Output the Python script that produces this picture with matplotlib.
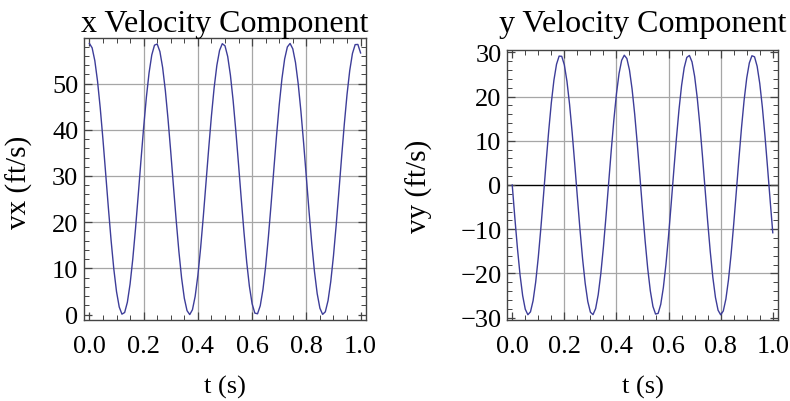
import numpy as np
import matplotlib
matplotlib.use("Agg")
import matplotlib.pyplot as plt
from matplotlib.ticker import MultipleLocator, FormatStrFormatter

# tempo (s), amostrado a cada 0.01 s
t = np.round(np.arange(0, 101) * 0.01, 2)

# componente x da velocidade (ft/s)
vx = [58.70, 57.75, 54.96, 50.52, 44.70, 37.89, 30.53, 23.09, 16.06, 9.87,
      4.97, 1.64, 0.09, 0.45, 2.67, 6.62, 12.04, 18.58, 25.82, 33.28,
      40.50, 46.99, 52.33, 56.20, 58.32, 58.57, 56.93, 53.50, 48.52, 42.28,
      35.21, 27.76, 20.42, 13.66, 7.90, 3.54, 0.85, 0.00, 1.05, 3.94,
      8.47, 14.34, 21.20, 28.58, 36.00, 43.00, 49.12, 53.95, 57.19, 58.64,
      58.18, 55.86, 51.82, 46.33, 39.74, 32.48, 25.01, 17.83, 11.39, 6.11,
      2.34, 0.32, 0.17, 1.91, 5.43, 10.50, 16.79, 23.89, 31.34, 38.67,
      45.39, 51.07, 55.35, 57.94, 58.69, 57.53, 54.56, 49.94, 44.00, 37.11,
      29.72, 22.30, 15.34, 9.29, 4.53, 1.38, 0.04, 0.60, 3.02, 7.14,
      12.70, 19.34, 26.62, 34.09, 41.24, 47.63, 52.83, 56.52, 58.44, 58.48,
      56.64]

# componente y da velocidade (ft/s)
vy = [0.00, -7.41, -14.33, -20.33, -25.01, -28.08, -29.33, -28.68, -26.17, -21.96,
      -16.34, -9.66, -2.36, 5.10, 12.23, 18.57, 23.70, 27.30, 29.14, 29.09,
      27.15, 23.46, 18.25, 11.86, 4.70, -2.76, -10.05, -16.68, -22.23, -26.35,
      -28.76, -29.31, -27.96, -24.80, -20.03, -13.98, -7.01, 0.41, 7.80, 14.69,
      20.62, 25.22, 28.19, 29.34, 28.59, 25.98, 21.69, 16.01, 9.28, 1.95,
      -5.50, -12.60, -18.88, -23.94, -27.45, -29.18, -29.03, -26.99, -23.21, -17.93,
      -11.49, -4.30, 3.17, 10.43, 17.01, 22.50, 26.52, 28.84, 29.28, 27.83,
      24.58, 19.74, 13.62, 6.62, -0.81, -8.19, -15.04, -20.91, -25.43, -28.31,
      -29.35, -28.49, -25.79, -21.42, -15.66, -8.89, -1.55, 5.90, 12.96, 19.19,
      24.17, 27.59, 29.22, 28.97, 26.83, 22.96, 17.60, 11.11, 3.90, -3.57,
      -10.80]

titulos = ["x Velocity Component", "y Velocity Component"]
rotulos_y = ["vx (ft/s)", "vy (ft/s)"]

plt.rcParams['font.family'] = ['Liberation Serif', 'DejaVu Serif']

COR_LINHA = '#3d3d99'
COR_GRADE = '#a6a6a6'
COR_MOLDURA = '#444444'


def estilizar_eixo(ax, x_grade, y_grade):
    for lado in ax.spines.values():
        lado.set_color(COR_MOLDURA)
        lado.set_linewidth(1.0)
    ax.xaxis.set_major_locator(MultipleLocator(0.2))
    ax.xaxis.set_minor_locator(MultipleLocator(0.05))
    ax.yaxis.set_major_locator(MultipleLocator(10))
    ax.yaxis.set_minor_locator(MultipleLocator(2))
    ax.xaxis.set_major_formatter(FormatStrFormatter('%.1f'))
    ax.tick_params(which='both', direction='in', top=True, right=True,
                   color=COR_MOLDURA, labelsize=19)
    ax.tick_params(which='major', length=6, width=0.9)
    ax.tick_params(which='minor', length=3.5, width=0.7)
    ax.tick_params(axis='x', which='major', pad=11)
    ax.tick_params(axis='y', which='major', pad=4)
    for xg in x_grade:
        ax.axvline(xg, color=COR_GRADE, linewidth=0.9, zorder=0)
    for yg in y_grade:
        ax.axhline(yg, color=COR_GRADE, linewidth=0.9, zorder=0)
    ax.margins(x=0.02, y=0.02)


fig = plt.figure(figsize=(7.9, 4.02), dpi=100)

ax1 = fig.add_axes([0.1063, 0.2015, 0.357, 0.7015])
ax1.plot(t, vx, color=COR_LINHA, linewidth=1.0)
estilizar_eixo(ax1, [0.2, 0.4, 0.6, 0.8], [10, 20, 30, 40, 50])
ax1.set_title(titulos[0], fontsize=23, pad=5)
ax1.set_xlabel('t (s)', fontsize=19)
ax1.set_ylabel(rotulos_y[0], fontsize=21)
ax1.xaxis.set_label_coords(0.5, -0.195)
ax1.yaxis.set_label_coords(-0.181, 0.49)

ax2 = fig.add_axes([0.6418, 0.2015, 0.343, 0.6716])
ax2.plot(t, vy, color=COR_LINHA, linewidth=1.0)
estilizar_eixo(ax2, [0.2, 0.4, 0.6, 0.8], [-20, -10, 10, 20])
ax2.axhline(0, color='black', linewidth=1.0, zorder=1)
ax2.set_title(titulos[1], fontsize=23, pad=13.5)
ax2.set_xlabel('t (s)', fontsize=19)
ax2.set_ylabel(rotulos_y[1], fontsize=21)
ax2.xaxis.set_label_coords(0.5, -0.204)
ax2.yaxis.set_label_coords(-0.273, 0.5)

fig.savefig('out.png', dpi=100)
